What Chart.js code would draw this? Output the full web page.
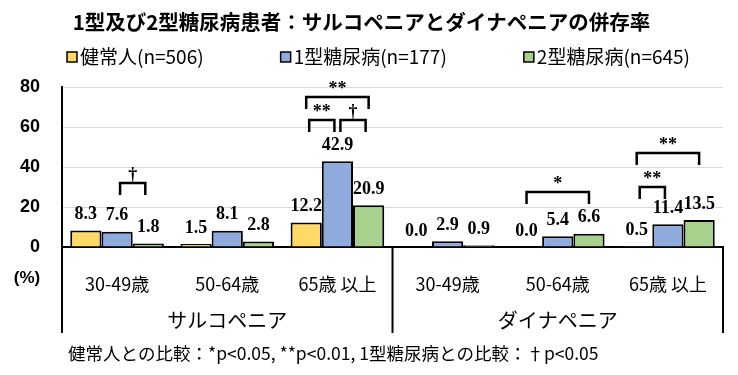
<!DOCTYPE html>
<html lang="ja">
<head>
<meta charset="utf-8">
<title>1型及び2型糖尿病患者：サルコペニアとダイナペニアの併存率</title>
<script src="https://cdn.jsdelivr.net/npm/chart.js@4.4.1/dist/chart.umd.min.js"></script>
<style>
  html, body { margin: 0; padding: 0; background: #fff; }
  #wrap { width: 738px; height: 375px; }
</style>
</head>
<body>
<div id="wrap"><canvas id="chart" width="738" height="375"></canvas></div>
<script>
// values (%)
const ageLabels = ['30-49歳', '50-64歳', '65歳 以上', '30-49歳', '50-64歳', '65歳 以上'];
const groupLabels = ['サルコペニア', 'ダイナペニア'];
const seriesNames = ['健常人(n=506)', '1型糖尿病(n=177)', '2型糖尿病(n=645)'];
const healthy = [8.3, 1.5, 12.2, 0.0, 0.0, 0.5];
const type1 = [7.6, 8.1, 42.9, 2.9, 5.4, 11.4];
const type2 = [1.8, 2.8, 20.9, 0.9, 6.6, 13.5];
const yTicks = [0, 20, 40, 60, 80];

// significance brackets: category, series from -> to, bracket height (%), mark
const brackets = [
    { cat: 0, from: 1, to: 2, level: 32, mark: '†' },
    { cat: 2, from: 0, to: 1, level: 63.5, mark: '**' },
    { cat: 2, from: 1, to: 2, level: 63.5, mark: '†' },
    { cat: 2, from: 0, to: 2, level: 75, mark: '**' },
    { cat: 4, from: 0, to: 2, level: 27.5, mark: '*' },
    { cat: 5, from: 0, to: 1, level: 30, mark: '**' },
    { cat: 5, from: 0, to: 2, level: 47, mark: '**' }
];
const footnote = '健常人との比較：*p<0.05, **p<0.01, 1型糖尿病との比較：†p<0.05';

const COLORS = ['#FFD966', '#8FAADC', '#A9D18E'];
const JP = '"Noto Sans CJK JP", "Noto Sans", sans-serif';
const SANS = '"Liberation Sans", Arial, sans-serif';
const SERIF = '"Liberation Serif", "DejaVu Serif", serif';
const GROUP_SIZE = 3;

const decorations = {
    id: 'decorations',
    afterDraw(chart) {
        const { ctx, chartArea: area } = chart;
        const x = chart.scales.x;
        const y = chart.scales.y;
        ctx.save();

        // legend row, spread between the outer edges seen in the figure
        ctx.font = '19px ' + JP;
        ctx.textBaseline = 'middle';
        ctx.textAlign = 'left';
        const dsList = chart.data.datasets;
        const widths = dsList.map(ds => 13 + ctx.measureText(ds.label).width);
        const legLeft = 67, legRight = 690;
        const gap = (legRight - legLeft - widths.reduce((s, w) => s + w, 0)) / (dsList.length - 1);
        let lx = legLeft;
        dsList.forEach((ds, i) => {
            ctx.fillStyle = ds.backgroundColor;
            ctx.fillRect(lx, 52, 10, 10);
            ctx.strokeStyle = '#000';
            ctx.lineWidth = 1.5;
            ctx.strokeRect(lx, 52, 10, 10);
            ctx.fillStyle = '#000';
            ctx.fillText(ds.label, lx + 13, 57);
            lx += widths[i] + gap;
        });

        // value labels above bars
        ctx.font = 'bold 18px ' + SERIF;
        ctx.textAlign = 'center';
        ctx.textBaseline = 'middle';
        dsList.forEach((ds, i) => {
            chart.getDatasetMeta(i).data.forEach((bar, j) => {
                ctx.fillText(ds.data[j].toFixed(1), bar.x, bar.y - 16);
            });
        });

        // significance brackets
        ctx.strokeStyle = '#000';
        ctx.lineWidth = 2.5;
        ctx.textBaseline = 'alphabetic';
        brackets.forEach(b => {
            const a = chart.getDatasetMeta(b.from).data[b.cat];
            const c = chart.getDatasetMeta(b.to).data[b.cat];
            const inset = (b.to - b.from === 1) ? 3 : 0;
            const x1 = a.x + inset;
            const x2 = c.x - inset;
            const top = y.getPixelForValue(b.level);
            ctx.beginPath();
            ctx.moveTo(x1, top + 12);
            ctx.lineTo(x1, top);
            ctx.lineTo(x2, top);
            ctx.lineTo(x2, top + 12);
            ctx.stroke();
            ctx.fillText(b.mark, (x1 + x2) / 2, top - 3);
        });

        // group frame below the axis
        const step = x.getPixelForValue(1) - x.getPixelForValue(0);
        ctx.lineWidth = 2;
        for (let g = 0; g <= groupLabels.length; g++) {
            const bx = g < groupLabels.length
                ? x.getPixelForValue(g * GROUP_SIZE) - step / 2
                : x.getPixelForValue(ageLabels.length - 1) + step / 2;
            ctx.beginPath();
            ctx.moveTo(bx, area.bottom);
            ctx.lineTo(bx, area.bottom + 86);
            ctx.stroke();
        }
        ctx.font = '20px ' + JP;
        ctx.textBaseline = 'middle';
        groupLabels.forEach((label, g) => {
            const cx = (x.getPixelForValue(g * GROUP_SIZE) + x.getPixelForValue(g * GROUP_SIZE + GROUP_SIZE - 1)) / 2;
            ctx.fillText(label, cx, area.bottom + 73);
        });

        // unit label
        ctx.font = 'bold 17px ' + SANS;
        ctx.fillText('(%)', area.left - 35, area.bottom + 31);

        // footnote
        ctx.font = '17.5px ' + JP;
        ctx.textAlign = 'left';
        ctx.fillText(footnote, 68, area.bottom + 106);

        ctx.restore();
    }
};

const series = [healthy, type1, type2];

new Chart(document.getElementById('chart'), {
    type: 'bar',
    data: {
        labels: ageLabels,
        datasets: series.map((values, i) => ({
            label: seriesNames[i],
            data: values,
            backgroundColor: COLORS[i],
            borderColor: '#000',
            borderWidth: 2,
            categoryPercentage: 0.85,
            barPercentage: 1.0
        }))
    },
    options: {
        responsive: false,
        devicePixelRatio: 1,
        animation: false,
        layout: { padding: { left: 0, right: 15, top: 0, bottom: 0 } },
        plugins: {
            legend: { display: false },
            tooltip: { enabled: false },
            title: {
                display: true,
                text: '1型及び2型糖尿病患者：サルコペニアとダイナペニアの併存率',
                color: '#000',
                font: { family: JP, size: 20.5, weight: 'bold', lineHeight: 1.2 },
                padding: { top: 10, bottom: 52.4 }
            }
        },
        scales: {
            x: {
                grid: { display: false },
                border: { color: '#000', width: 2 },
                ticks: {
                    color: '#000',
                    font: { family: JP, size: 18 },
                    padding: 18,
                    maxRotation: 0,
                    autoSkip: false
                },
                afterFit(scale) { scale.height = 128; }
            },
            y: {
                min: yTicks[0],
                max: yTicks[yTicks.length - 1],
                grid: { color: '#D9D9D9', lineWidth: 1, drawTicks: false },
                border: { color: '#000', width: 2 },
                ticks: {
                    stepSize: yTicks[1] - yTicks[0],
                    color: '#000',
                    font: { family: SANS, size: 18, weight: 'bold' },
                    padding: 22
                },
                afterFit(scale) { scale.width = 62; }
            }
        }
    },
    plugins: [decorations]
});
</script>
</body>
</html>
